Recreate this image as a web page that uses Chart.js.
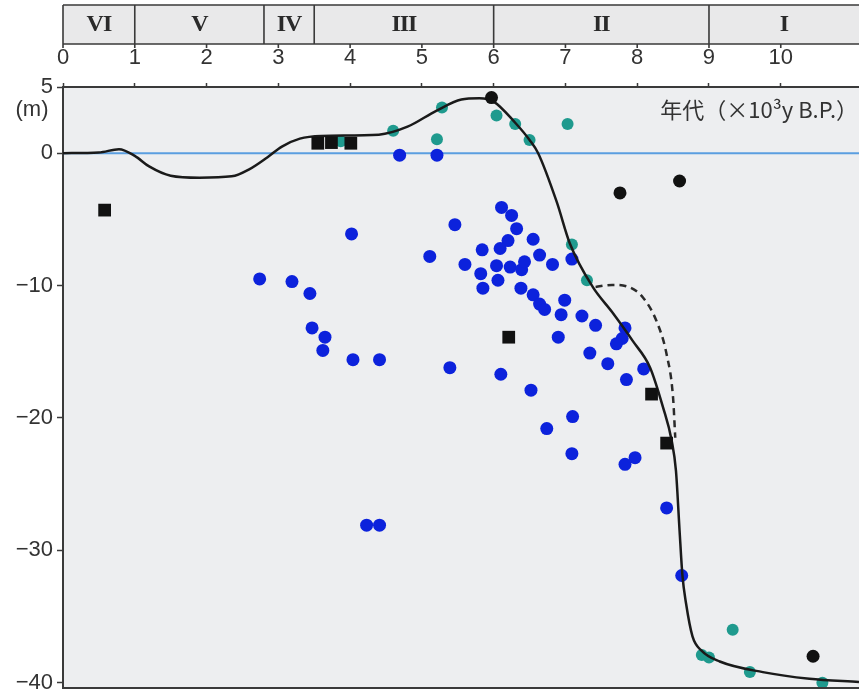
<!DOCTYPE html>
<html>
<head>
<meta charset="utf-8">
<script src="https://cdn.jsdelivr.net/npm/chart.js@4.4.0/dist/chart.umd.min.js"></script>
<style>
  html, body { margin: 0; padding: 0; background: #fff; }
  #wrap { width: 859px; height: 696px; }
</style>
</head>
<body>
<div id="wrap"><canvas id="seaLevel" width="859" height="696"></canvas></div>
<script>
// ages in 10^3 y B.P., levels in m
const blueAge = [4.69, 5.21, 4.02, 5.11, 2.74, 3.19, 3.44, 3.47, 3.65, 3.62, 4.04, 4.41, 4.23, 4.41,
  5.46, 6.11, 6.25, 6.32, 6.55, 6.2, 6.09, 5.84, 6.64, 6.82, 7.09, 5.6, 6.04, 6.23, 6.39, 6.43,
  5.82, 6.06, 5.85, 6.38, 6.55, 6.64, 6.71, 6.99, 6.94, 7.23, 7.42, 6.9, 7.34, 7.83, 7.79, 7.71,
  7.59, 8.09, 7.85, 7.1, 6.74, 7.09, 7.97, 7.83, 5.39, 6.1, 6.52, 8.41, 8.62];
const blueLevel = [-0.15, -0.15, -6.1, -7.8, -9.5, -9.7, -10.6, -13.2, -13.9, -14.9, -15.6, -15.6, -28.1, -28.1,
  -5.4, -4.1, -4.7, -5.7, -6.5, -6.6, -7.2, -7.3, -7.7, -8.4, -8.0, -8.4, -8.5, -8.6, -8.8, -8.2,
  -9.1, -9.6, -10.2, -10.2, -10.7, -11.4, -11.8, -11.1, -12.2, -12.3, -13.0, -13.9, -15.1, -13.2, -14.0, -14.4,
  -15.9, -16.3, -17.1, -19.9, -20.8, -22.7, -23.0, -23.5, -16.2, -16.7, -17.9, -26.8, -31.9];

const tealAge = [3.87, 4.6, 5.21, 5.28, 6.04, 6.3, 6.5, 7.03, 7.09, 7.3, 9.33, 8.9, 9.0, 9.57, 10.58];
const tealLevel = [0.9, 1.7, 1.05, 3.46, 2.85, 2.2, 1.0, 2.2, -6.9, -9.6, -36.0, -37.9, -38.1, -39.2, -40.0];

const blackDotAge = [5.97, 7.76, 8.59, 10.45];
const blackDotLevel = [4.2, -3.0, -2.1, -38.0];

const squareAge = [0.58, 3.55, 3.74, 4.01, 6.21, 8.2, 8.41];
const squareLevel = [-4.3, 0.75, 0.8, 0.75, -13.9, -18.2, -21.9];

const curveAge = [0, 0.5, 0.78, 1.0, 1.2, 1.5, 1.9, 2.35, 2.6, 2.85, 3.05, 3.3, 3.6, 4.4, 4.8, 5.2, 5.55,
  5.8, 6.0, 6.3, 6.5, 6.62, 6.88, 7.06, 7.38, 7.65, 7.94, 8.18, 8.36, 8.48, 8.54, 8.59, 8.63, 8.68,
  8.77, 8.9, 9.15, 9.75, 10.4, 11.09];
const curveLevel = [0, 0.05, 0.3, -0.2, -1.0, -1.7, -1.85, -1.75, -1.2, -0.3, 0.5, 1.1, 1.3, 1.4, 2.0, 3.2, 4.05,
  4.15, 3.9, 2.3, 1.0, 0, -3.7, -6.8, -10.1, -12.0, -14.2, -16.2, -19.2, -21.7, -24.0, -28.5, -31.9, -34.0,
  -36.5, -37.6, -38.4, -39.2, -39.7, -39.95];

const dashAge = [7.42, 7.65, 7.9, 8.08, 8.27, 8.41, 8.5, 8.53];
const dashLevel = [-10.1, -9.95, -10.15, -10.9, -12.7, -15.2, -18.5, -21.5];

const zeroAge = [0, 11.09];
const zeroLevel = [0, 0];

const periodBounds = [0, 1, 2.8, 3.5, 6, 9];
const periodLabels = ["VI", "V", "IV", "III", "II", "I"];
const xTicks = [0, 1, 2, 3, 4, 5, 6, 7, 8, 9, 10];
const yTicks = [-40, -30, -20, -10, 0, 5];

function pts(xs, ys) {
    return xs.map((x, i) => ({ x: x, y: ys[i] }));
}

const INK = "#3a3a3a";

const framePlugin = {
    id: "frame",
    beforeDraw(chart) {
        const { ctx, chartArea: a, scales: { x } } = chart;
        ctx.save();
        ctx.fillStyle = "#edeef0";
        ctx.fillRect(a.left, a.top, a.right - a.left, a.bottom - a.top);

        // period band on top
        const top = 5, bot = 44;
        ctx.fillStyle = "#e9e9ea";
        ctx.fillRect(a.left, top, a.right - a.left, bot - top);
        ctx.strokeStyle = INK;
        ctx.lineWidth = 1.6;
        ctx.beginPath();
        ctx.moveTo(a.left, top); ctx.lineTo(a.right, top);
        ctx.moveTo(a.left, bot); ctx.lineTo(a.right, bot);
        periodBounds.forEach(v => {
            const px = x.getPixelForValue(v);
            ctx.moveTo(px, top); ctx.lineTo(px, bot);
        });
        xTicks.forEach(v => {
            const px = x.getPixelForValue(v);
            ctx.moveTo(px, bot); ctx.lineTo(px, bot + 4);
        });
        ctx.stroke();

        ctx.fillStyle = "#2a2a2a";
        ctx.font = "bold 24px 'Liberation Serif'";
        ctx.letterSpacing = "-1px";
        ctx.textAlign = "center";
        ctx.textBaseline = "middle";
        periodLabels.forEach((t, i) => {
            const l = x.getPixelForValue(periodBounds[i]);
            const r = i + 1 < periodBounds.length ? x.getPixelForValue(periodBounds[i + 1]) : a.right;
            ctx.fillText(t, (l + r) / 2, 25);
        });
        ctx.restore();
    },
    afterDraw(chart) {
        const { ctx, chartArea: a } = chart;
        ctx.save();
        ctx.strokeStyle = INK;
        ctx.lineWidth = 2;
        ctx.beginPath();
        ctx.moveTo(a.left, a.bottom); ctx.lineTo(a.right, a.bottom);
        ctx.stroke();

        ctx.fillStyle = "#333";
        ctx.textBaseline = "middle";
        ctx.font = "22px 'Liberation Sans'";
        ctx.textAlign = "center";
        ctx.fillText("(m)", 32, 110);

        ctx.font = "22px 'Noto Sans CJK JP'";
        ctx.textAlign = "right";
        ctx.fillText("年代（×10³y B.P.）", 858, 110);
        ctx.restore();
    }
};

const ctx = document.getElementById("seaLevel").getContext("2d");

new Chart(ctx, {
    type: "line",
    data: {
        datasets: [
            {
                data: pts(squareAge, squareLevel),
                showLine: false,
                pointStyle: "rect",
                pointRadius: 9,
                pointBackgroundColor: "#111",
                pointBorderWidth: 0,
                order: 1
            },
            {
                data: pts(blackDotAge, blackDotLevel),
                showLine: false,
                pointRadius: 6.5,
                pointBackgroundColor: "#111",
                pointBorderWidth: 0,
                order: 1
            },
            {
                data: pts(curveAge, curveLevel),
                borderColor: "#1a1a1a",
                borderWidth: 2.5,
                pointRadius: 0,
                cubicInterpolationMode: "monotone",
                order: 2
            },
            {
                data: pts(dashAge, dashLevel),
                borderColor: "#2a2a2a",
                borderWidth: 2.5,
                borderDash: [7, 5],
                pointRadius: 0,
                cubicInterpolationMode: "monotone",
                order: 2
            },
            {
                data: pts(tealAge, tealLevel),
                showLine: false,
                pointRadius: 6,
                pointBackgroundColor: "#1f9a8e",
                pointBorderWidth: 0,
                order: 3
            },
            {
                data: pts(blueAge, blueLevel),
                showLine: false,
                pointRadius: 6.5,
                pointBackgroundColor: "#0c22dc",
                pointBorderWidth: 0,
                order: 4
            },
            {
                data: pts(zeroAge, zeroLevel),
                borderColor: "#5a9ee0",
                borderWidth: 2,
                pointRadius: 0,
                order: 5
            }
        ]
    },
    options: {
        responsive: false,
        animation: false,
        events: [],
        layout: {
            autoPadding: false,
            padding: { top: 37, left: 0, right: 0, bottom: 8 }
        },
        plugins: {
            legend: { display: false },
            tooltip: { enabled: false }
        },
        scales: {
            x: {
                type: "linear",
                position: "top",
                min: 0,
                max: 11.09,
                afterBuildTicks: (scale) => {
                    scale.ticks = xTicks.map(v => ({ value: v }));
                },
                afterFit: (scale) => {
                    scale.height = 50;
                    scale.paddingLeft = 0;
                    scale.paddingRight = 0;
                },
                grid: {
                    drawOnChartArea: false,
                    tickLength: 4,
                    tickColor: INK,
                    tickWidth: 1.5
                },
                border: { color: INK, width: 2 },
                ticks: {
                    padding: 12,
                    color: "#333",
                    font: { family: "'Liberation Sans'", size: 22 },
                    maxRotation: 0
                }
            },
            y: {
                type: "linear",
                min: -40.4,
                max: 5,
                afterBuildTicks: (scale) => {
                    scale.ticks = yTicks.map(v => ({ value: v }));
                },
                afterFit: (scale) => {
                    scale.width = 63;
                    scale.paddingTop = 0;
                    scale.paddingBottom = 0;
                },
                grid: {
                    drawOnChartArea: false,
                    tickLength: 6,
                    tickColor: INK,
                    tickWidth: 1.5
                },
                border: { color: INK, width: 2 },
                ticks: {
                    padding: 4,
                    color: "#333",
                    font: { family: "'Liberation Sans'", size: 22 },
                    callback: (v) => String(v).replace("-", "\u2212")
                }
            }
        }
    },
    plugins: [framePlugin]
});
</script>
</body>
</html>
